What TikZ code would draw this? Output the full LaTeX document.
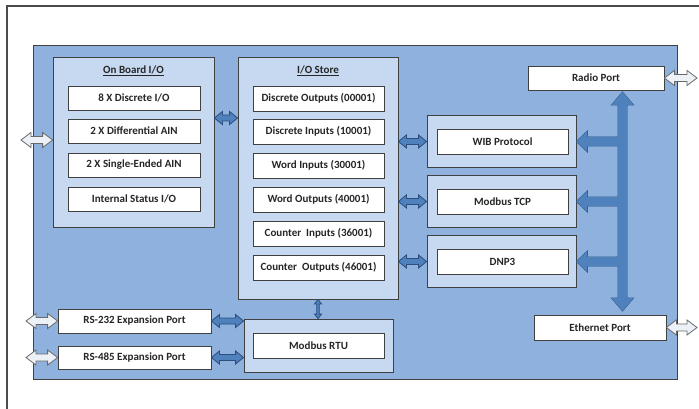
\documentclass[tikz,border=0pt]{standalone}
\usepackage{fontspec}
\setmainfont{Carlito}
\usetikzlibrary{calc}
\definecolor{mainbg}{RGB}{143,177,221}
\definecolor{grpbg}{RGB}{199,217,240}
\definecolor{boxline}{RGB}{64,64,64}
\definecolor{barrow}{RGB}{79,129,189}
\definecolor{barrowline}{RGB}{44,78,124}
\definecolor{warrow}{RGB}{236,241,248}
\definecolor{warrowline}{RGB}{105,105,105}
\definecolor{txt}{RGB}{38,38,38}
\newcommand\hdarr[6]{\path[#1] let \p1=(#2), \p2=(#3) in
  (\x1,\y1) -- (\x1+#6,\y1+#5) -- (\x1+#6,\y1+#4) -- (\x2-#6,\y1+#4) -- (\x2-#6,\y1+#5) -- (\x2,\y1)
  -- (\x2-#6,\y1-#5) -- (\x2-#6,\y1-#4) -- (\x1+#6,\y1-#4) -- (\x1+#6,\y1-#5) -- cycle;}
\newcommand\vdarr[6]{\path[#1] let \p1=(#2), \p2=(#3) in
  (\x1,\y1) -- (\x1+#5,\y1-#6) -- (\x1+#4,\y1-#6) -- (\x1+#4,\y2+#6) -- (\x1+#5,\y2+#6) -- (\x1,\y2)
  -- (\x1-#5,\y2+#6) -- (\x1-#4,\y2+#6) -- (\x1-#4,\y1-#6) -- (\x1-#5,\y1-#6) -- cycle;}
\newcommand\larr[6]{\path[#1] let \p1=(#2), \p2=(#3) in
  (\x1,\y1) -- (\x1+#6,\y1+#5) -- (\x1+#6,\y1+#4) -- (\x2,\y1+#4) -- (\x2,\y1-#4) -- (\x1+#6,\y1-#4) -- (\x1+#6,\y1-#5) -- cycle;}
\tikzset{
  every node/.style={font=\fontsize{11}{13}\selectfont\bfseries, text=txt},
  item/.style={draw=boxline, fill=white, line width=0.8pt, inner sep=0pt, minimum height=24pt},
  grp/.style={draw=boxline, fill=grpbg, line width=0.8pt, inner sep=0pt},
  title/.style={inner sep=0pt},
  blueA/.style={draw=barrowline, fill=barrow, line width=0.8pt, line join=miter},
  blueF/.style={fill=barrow},
  whiteA/.style={draw=warrowline, fill=warrow, line width=0.8pt, line join=miter},
}
\begin{document}
\begin{tikzpicture}[x=1pt,y=-1pt]
\useasboundingbox (0,0) rectangle (699,409);
\fill[white] (0,0) rectangle (699,409);
\draw[line width=1.1pt, draw=black!70] (7,409) -- (7,6) -- (699,6);
\node[draw=boxline, fill=mainbg, line width=0.9pt, inner sep=0pt, minimum width=644pt, minimum height=334pt] (main) at (355,212) {};

% On Board I/O
\node[grp, minimum width=161pt, minimum height=170pt] (onboard) at (133.5,142) {};
\node[title] (obt) at (133.5,71) {\underline{On Board I/O}};
\node[item, minimum width=132pt] (ob1) at (134,98) {8 X Discrete I/O};
\node[item, minimum width=132pt] (ob2) at (134,131) {2 X Differential AIN};
\node[item, minimum width=132pt] (ob3) at (134,165) {2 X Single-Ended AIN};
\node[item, minimum width=132pt] (ob4) at (134,199) {Internal Status I/O};

% I/O Store
\node[grp, minimum width=160pt, minimum height=242pt] (store) at (318,178) {};
\node[title] (stt) at (318,71) {\underline{I/O Store}};
\node[item, minimum width=131pt, minimum height=25pt] (s1) at (318.5,98.5) {Discrete Outputs (00001)};
\node[item, minimum width=131pt, minimum height=25pt] (s2) at (318.5,131.5) {Discrete Inputs (10001)};
\node[item, minimum width=131pt, minimum height=25pt] (s3) at (318.5,165.5) {Word Inputs (30001)};
\node[item, minimum width=131pt, minimum height=25pt] (s4) at (318.5,199.5) {Word Outputs (40001)};
\node[item, minimum width=131pt, minimum height=25pt] (s5) at (318.5,233.5) {Counter~ Inputs (36001)};
\node[item, minimum width=131pt, minimum height=25pt] (s6) at (318.5,267.5) {Counter~ Outputs (46001)};

% Protocols
\node[grp, minimum width=149pt, minimum height=52pt] (wibg) at (501.5,141.5) {};
\node[item, minimum width=131pt, minimum height=25pt] (wib) at (502.5,141.5) {WIB Protocol};
\node[grp, minimum width=149pt, minimum height=52pt] (tcpg) at (501.5,201.5) {};
\node[item, minimum width=131pt, minimum height=25pt] (tcp) at (502.5,201.5) {Modbus TCP};
\node[grp, minimum width=149pt, minimum height=52pt] (dnpg) at (501.5,261.5) {};
\node[item, minimum width=131pt, minimum height=25pt] (dnp) at (502.5,261.5) {DNP3};

% Ports
\node[item, minimum width=136pt] (radio) at (596,78) {Radio Port};
\node[item, minimum width=132pt, minimum height=25pt] (ether) at (600,327.5) {Ethernet Port};
\node[item, minimum width=153pt] (rs232) at (134.5,321) {RS-232 Expansion Port};
\node[item, minimum width=153pt, minimum height=23pt] (rs485) at (134.5,357.5) {RS-485 Expansion Port};

% Modbus RTU
\node[grp, minimum width=149pt, minimum height=53pt] (rtug) at (318.5,345.5) {};
\node[item, minimum width=131pt, minimum height=25pt] (rtu) at (318.5,345.5) {Modbus RTU};

% coordinates
\coordinate (lobw) at (21,140);
\coordinate (y118) at (0,118);
\coordinate (radioR) at (697,78);
\coordinate (etherR) at (697,327.5);
\coordinate (rs232L) at (26,321);
\coordinate (rs485L) at (26,357.5);
\coordinate (bust) at (622.5,92);
\coordinate (busb) at (622.5,311);

% white arrows
\hdarr{whiteA}{lobw}{onboard.west}{3.5pt}{7.5pt}{10pt}
\hdarr{whiteA}{radio.east}{radioR}{3.5pt}{7.5pt}{10pt}
\hdarr{whiteA}{ether.east}{etherR}{3.5pt}{7.5pt}{10pt}
\hdarr{whiteA}{rs232L}{rs232.west}{3.5pt}{7.5pt}{10pt}
\hdarr{whiteA}{rs485L}{rs485.west}{3.5pt}{7.5pt}{10pt}

% blue double arrows
\hdarr{blueA}{onboard.east |- y118}{store.west |- y118}{3pt}{6.5pt}{8pt}
\hdarr{blueA}{store.east |- wibg.west}{wibg.west}{3pt}{6.5pt}{8pt}
\hdarr{blueA}{store.east |- tcpg.west}{tcpg.west}{3pt}{6.5pt}{8pt}
\hdarr{blueA}{store.east |- dnpg.west}{dnpg.west}{3pt}{6.5pt}{8pt}
\hdarr{blueA}{rs232.east}{rtug.west |- rs232.east}{3pt}{6.5pt}{8pt}
\hdarr{blueA}{rs485.east}{rtug.west |- rs485.east}{3pt}{6.5pt}{8pt}
\vdarr{blueA}{store.south}{rtug.north}{1.3pt}{3.5pt}{4.5pt}

% bus
\vdarr{blueA}{bust}{busb}{4.5pt}{11pt}{13pt}
\larr{blueA}{wibg.east}{bust |- wibg.east}{4.5pt}{10.5pt}{11pt}
\larr{blueA}{tcpg.east}{bust |- tcpg.east}{4.5pt}{10.5pt}{11pt}
\larr{blueA}{dnpg.east}{bust |- dnpg.east}{4.5pt}{10.5pt}{11pt}
\vdarr{blueF}{bust}{busb}{4.5pt}{11pt}{13pt}
\larr{blueF}{wibg.east}{bust |- wibg.east}{4.5pt}{10.5pt}{11pt}
\larr{blueF}{tcpg.east}{bust |- tcpg.east}{4.5pt}{10.5pt}{11pt}
\larr{blueF}{dnpg.east}{bust |- dnpg.east}{4.5pt}{10.5pt}{11pt}
\end{tikzpicture}
\end{document}
